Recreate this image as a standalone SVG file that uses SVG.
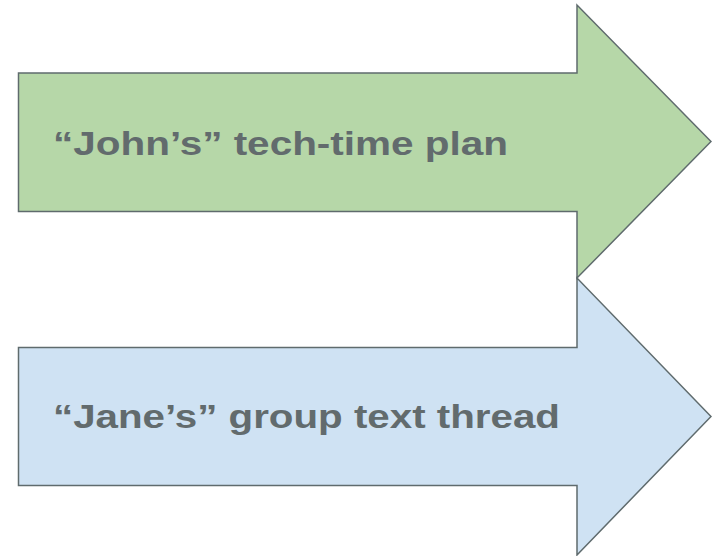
<svg xmlns="http://www.w3.org/2000/svg" width="712" height="556" viewBox="0 0 712 556">
  <style>
    .arrow { stroke: #5f6b6d; stroke-width: 1.5; stroke-linejoin: miter; }
    .label { font-family: "Liberation Sans", Arial, sans-serif; font-weight: bold; font-size: 34px; fill: #626b6d; }
  </style>
  <rect width="712" height="556" fill="#ffffff"/>
  <g id="john-plan">
    <polygon class="arrow" fill="#b6d7a8" points="18.5,73 577,73 577,5 711,141.5 577,278 577,211.5 18.5,211.5"/>
    <text class="label" x="53" y="155" textLength="455" lengthAdjust="spacingAndGlyphs">“John’s” tech-time plan</text>
  </g>
  <g id="jane-thread">
    <polygon class="arrow" fill="#cfe2f3" points="18.5,347.5 577,347.5 577,278 711,416.5 577,555 577,485.5 18.5,485.5"/>
    <text class="label" x="53" y="428" textLength="507" lengthAdjust="spacingAndGlyphs">“Jane’s” group text thread</text>
  </g>
  <g id="connectors"/>
</svg>
